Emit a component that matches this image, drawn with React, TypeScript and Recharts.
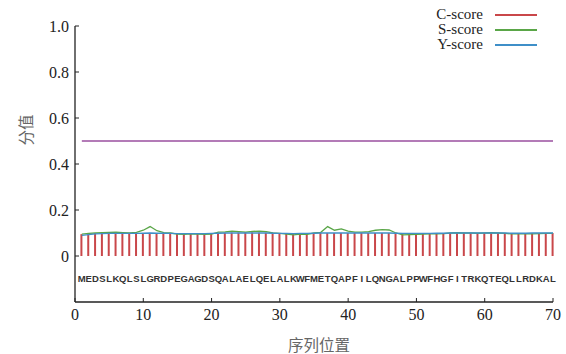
import {
  ComposedChart,
  XAxis,
  YAxis,
  Bar,
  Line,
  Scatter,
} from 'recharts'

// 氨基酸序列 (1-70)
const sequence = 'MEDSLKQLSLGRDPEGAGDSQALAELQELALKWFMETQAPFILQNGALPPWFHGFITRKQTEQLLRDKAL'.split('')

const cScore = [
  0.095, 0.098, 0.1, 0.1, 0.1, 0.1, 0.099, 0.1, 0.1, 0.1,
  0.1, 0.1, 0.1, 0.099, 0.098, 0.098, 0.098, 0.098, 0.098, 0.1,
  0.1, 0.101, 0.102, 0.102, 0.103, 0.103, 0.102, 0.101, 0.1, 0.1,
  0.099, 0.098, 0.1, 0.1, 0.1, 0.1, 0.1, 0.1, 0.1, 0.1,
  0.1, 0.1, 0.1, 0.1, 0.1, 0.1, 0.099, 0.098, 0.098, 0.098,
  0.098, 0.099, 0.1, 0.1, 0.1, 0.1, 0.101, 0.1, 0.1, 0.1,
  0.1, 0.1, 0.1, 0.099, 0.098, 0.099, 0.1, 0.1, 0.1, 0.1,
]

const sScore = [
  0.095, 0.098, 0.1, 0.102, 0.103, 0.104, 0.102, 0.1, 0.103, 0.112,
  0.128, 0.11, 0.102, 0.1, 0.095, 0.094, 0.096, 0.095, 0.094, 0.095,
  0.104, 0.105, 0.108, 0.106, 0.104, 0.107, 0.108, 0.106, 0.1, 0.098,
  0.095, 0.092, 0.095, 0.094, 0.1, 0.103, 0.128, 0.112, 0.118, 0.108,
  0.104, 0.104, 0.106, 0.112, 0.115, 0.113, 0.1, 0.092, 0.093, 0.094,
  0.095, 0.096, 0.096, 0.097, 0.1, 0.101, 0.1, 0.1, 0.099, 0.1,
  0.101, 0.1, 0.098, 0.096, 0.096, 0.097, 0.096, 0.097, 0.098, 0.098,
]

const yScore = [
  0.09, 0.093, 0.096, 0.097, 0.098, 0.098, 0.098, 0.098, 0.098, 0.099,
  0.1, 0.099, 0.099, 0.098, 0.097, 0.097, 0.097, 0.097, 0.097, 0.098,
  0.099, 0.1, 0.1, 0.1, 0.1, 0.1, 0.1, 0.1, 0.099, 0.098,
  0.098, 0.097, 0.098, 0.098, 0.099, 0.1, 0.1, 0.1, 0.1, 0.1,
  0.1, 0.1, 0.1, 0.1, 0.1, 0.1, 0.099, 0.098, 0.098, 0.098,
  0.098, 0.098, 0.099, 0.099, 0.1, 0.1, 0.1, 0.1, 0.1, 0.1,
  0.1, 0.1, 0.1, 0.099, 0.099, 0.099, 0.1, 0.1, 0.1, 0.1,
]

const threshold = 0.5
const seqRowY = -0.095
const xTicks = [0, 10, 20, 30, 40, 50, 60, 70]
const yTicks = [0, 0.2, 0.4, 0.6, 0.8, 1.0]

const legendItems = [
  { name: 'C-score', color: '#c9474a' },
  { name: 'S-score', color: '#5aa648' },
  { name: 'Y-score', color: '#3f8fc8' },
]

const chartData = sequence.map((aa, i) => ({
  pos: i + 1,
  aa,
  c: cScore[i],
  s: sScore[i],
  y: yScore[i],
  thr: threshold,
  seq: seqRowY,
}))

const serif = 'Times New Roman, Liberation Serif, serif'
const cjk = 'Noto Sans CJK SC'
const tickStyle = { fontFamily: serif, fontSize: 16, fill: '#222' }

const Letter = ({ cx, cy, payload }: any) => (
  <text
    x={cx}
    y={cy}
    dy={4}
    textAnchor="middle"
    fontFamily="Liberation Sans"
    fontWeight="bold"
    fontSize={9.5}
    fill="#333"
  >
    {payload.aa}
  </text>
)

// 범례는 차트 밖에 절대 위치로
const ScoreLegend = () => (
  <div
    style={{
      position: 'absolute',
      left: 416,
      top: 7,
      fontFamily: serif,
      fontSize: 15,
      color: '#222',
      lineHeight: '15px',
    }}
  >
    {legendItems.map((item) => (
      <div key={item.name} style={{ display: 'flex', alignItems: 'center', height: 15 }}>
        <span style={{ width: 67, textAlign: 'right' }}>{item.name}</span>
        <span
          style={{
            display: 'inline-block',
            width: 42,
            height: 2,
            marginLeft: 12,
            background: item.color,
          }}
        />
      </div>
    ))}
  </div>
)

export default function App() {
  return (
    <div
      style={{
        position: 'absolute',
        left: 0,
        top: 0,
        width: 566,
        height: 354,
        background: '#fff',
      }}
    >
      <ComposedChart
        width={566}
        height={354}
        data={chartData}
        margin={{ top: 26, right: 13, left: 25, bottom: 32 }}
      >
        <XAxis
          dataKey="pos"
          type="number"
          domain={[0, 70]}
          ticks={xTicks}
          tickSize={-4}
          tickMargin={11}
          tickLine={{ stroke: '#222' }}
          tick={tickStyle}
          axisLine={{ stroke: '#222', strokeWidth: 1.3 }}
          height={20}
          label={{
            content: () => (
              <text x={319} y={351} textAnchor="middle" fontFamily={cjk} fontSize={15.5} fill="#666">
                序列位置
              </text>
            ),
          }}
        />
        <YAxis
          type="number"
          domain={[-0.2, 1]}
          ticks={yTicks}
          width={50}
          tickSize={-4}
          tickMargin={10}
          tickLine={{ stroke: '#222' }}
          tick={tickStyle}
          tickFormatter={(v: number) => (v === 0 ? '0' : v.toFixed(1))}
          axisLine={{ stroke: '#222', strokeWidth: 1.3 }}
          label={{
            content: () => (
              <text
                x={32}
                y={130}
                textAnchor="middle"
                transform="rotate(-90 32 130)"
                fontFamily={cjk}
                fontSize={15.5}
                fill="#666"
              >
                分值
              </text>
            ),
          }}
        />
        <Bar dataKey="c" name="C-score" fill="#c9474a" barSize={2} isAnimationActive={false} />
        <Line dataKey="s" name="S-score" stroke="#5aa648" strokeWidth={1.3} dot={false} isAnimationActive={false} />
        <Line dataKey="y" name="Y-score" stroke="#3f8fc8" strokeWidth={1.3} dot={false} isAnimationActive={false} />
        <Line dataKey="thr" stroke="#9a4f9f" strokeWidth={1.5} dot={false} isAnimationActive={false} />
        <Scatter dataKey="seq" shape={<Letter />} isAnimationActive={false} />
      </ComposedChart>
      <ScoreLegend />
    </div>
  )
}
